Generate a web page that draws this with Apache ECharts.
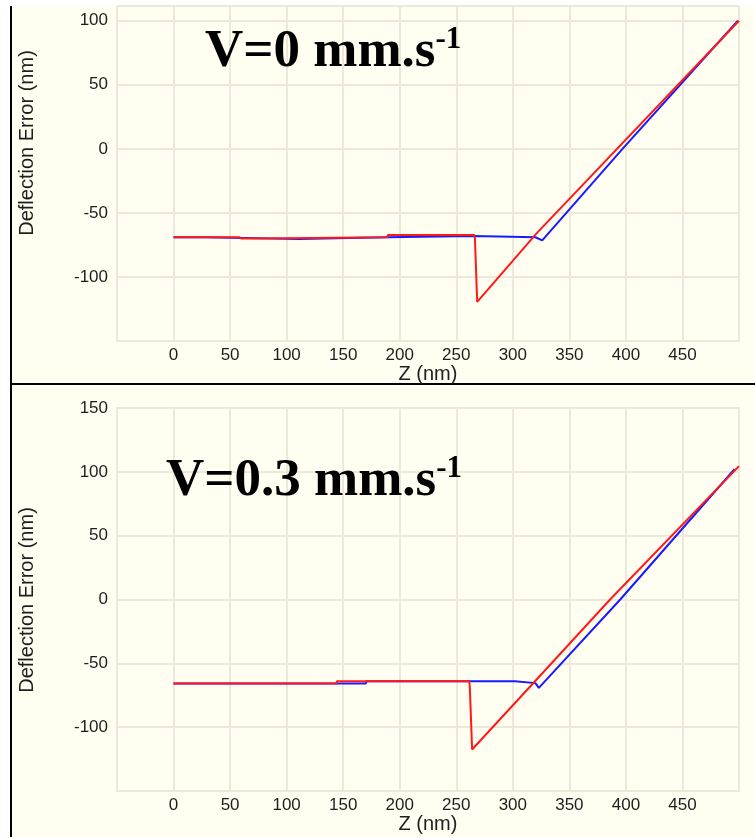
<!DOCTYPE html>
<html>
<head>
<meta charset="utf-8">
<script src="https://cdn.jsdelivr.net/npm/echarts@6/dist/echarts.min.js"></script>
<style>
  html, body { margin: 0; padding: 0; background: #fff; }
  #chart { width: 755px; height: 837px; }
</style>
</head>
<body>
<div id="chart"></div>
<script>
// force curves, [Z (nm), deflection error (nm)]
// V = 0 mm/s
const blueV0 = [
  [0, -69], [27, -69], [27.5, -70.3], [111, -70.3], [111.5, -69], [189, -69],
  [189.5, -68], [265, -68], [265.5, -69], [320, -69], [326, -71.5],
  [397, 0], [499, 100]
];
const redV0 = [
  [0, -69], [58, -69], [60, -70], [76, -70], [76.5, -69], [189, -69],
  [189.5, -67.3], [266, -67.3], [266.5, -70], [268, -70], [268.5, -119.5],
  [321, -66], [500, 100]
];
// V = 0.3 mm/s
const blueV03 = [
  [0, -65.8], [170, -65.8], [170.5, -64], [302, -64], [303, -65.5], [320, -65.5],
  [323, -69.2], [395, 0], [496, 102]
];
const redV03 = [
  [0, -65.8], [144, -65.8], [144.5, -64], [261.5, -64], [262, -69], [263.5, -69],
  [264, -117.5], [317, -66.6], [386, 0], [500, 104.5]
];

const zTicks = { min: -50, max: 500, interval: 50 };
const yRangeTop = { min: -150, max: 111.5 };
const yRangeBottom = { min: -150, max: 150 };

const cream = '#fffef0';
const gridColor = '#ece8da';
const textColor = '#1e1e1e';
const sans = 'Liberation Sans, Arial, sans-serif';
const serif = 'Liberation Serif, Times New Roman, serif';

const xAxisBase = (gridIndex) => ({
  type: 'value',
  gridIndex,
  min: zTicks.min,
  max: zTicks.max,
  interval: zTicks.interval,
  name: 'Z (nm)',
  nameLocation: 'middle',
  nameGap: 22,
  nameTextStyle: { fontFamily: sans, fontSize: 20, color: textColor },
  axisLine: { show: false },
  axisTick: { show: false },
  axisLabel: {
    showMinLabel: false,
    showMaxLabel: false,
    margin: 6,
    fontFamily: sans,
    fontSize: 17,
    color: textColor,
  },
  splitLine: { lineStyle: { color: gridColor, width: 2 } },
});

const yAxisBase = (gridIndex, range, showMax) => ({
  type: 'value',
  gridIndex,
  min: range.min,
  max: range.max,
  interval: 50,
  axisLine: { show: false },
  axisTick: { show: false },
  axisLabel: {
    showMinLabel: false,
    showMaxLabel: showMax,
    margin: 9,
    fontFamily: sans,
    fontSize: 17,
    color: textColor,
  },
  splitLine: { lineStyle: { color: gridColor, width: 2 } },
});

const lineSeries = (data, color, idx) => ({
  type: 'line',
  data,
  xAxisIndex: idx,
  yAxisIndex: idx,
  showSymbol: false,
  symbol: 'none',
  lineStyle: { color, width: 2 },
  silent: true,
});

const titleText = (x, y, main) => ({
  type: 'text',
  x,
  y,
  z: 10,
  style: {
    text: '{m|' + main + '}{s|-1}',
    verticalAlign: 'top',
    rich: {
      m: { fontFamily: serif, fontWeight: 'bold', fontSize: 53, lineHeight: 56, fill: '#000' },
      s: { fontFamily: serif, fontWeight: 'bold', fontSize: 31, lineHeight: 30, fill: '#000', verticalAlign: 'top' },
    },
  },
});

const yName = (x, y) => ({
  type: 'text',
  x,
  y,
  rotation: Math.PI / 2,
  style: {
    text: 'Deflection Error (nm)',
    align: 'center',
    verticalAlign: 'middle',
    fontFamily: sans,
    fontSize: 20,
    fill: textColor,
  },
});

const chart = echarts.init(document.getElementById('chart'), null, { renderer: 'canvas' });
chart.setOption({
  animation: false,
  backgroundColor: cream,
  grid: [
    { left: 117, top: 6, right: 16, height: 335, show: true, borderColor: gridColor, borderWidth: 2, backgroundColor: cream },
    { left: 117, top: 408, right: 16, height: 383, show: true, borderColor: gridColor, borderWidth: 2, backgroundColor: cream },
  ],
  xAxis: [xAxisBase(0), xAxisBase(1)],
  yAxis: [yAxisBase(0, yRangeTop, false), yAxisBase(1, yRangeBottom, true)],
  series: [
    lineSeries(blueV0, '#1a1aff', 0),
    lineSeries(redV0, '#ff1a1a', 0),
    lineSeries(blueV03, '#1a1aff', 1),
    lineSeries(redV03, '#ff1a1a', 1),
  ],
  graphic: [
    { type: 'rect', shape: { x: 0, y: 0, width: 755, height: 6 }, style: { fill: '#fff' } },
    { type: 'rect', shape: { x: 0, y: 0, width: 10, height: 837 }, style: { fill: '#fff' } },
    { type: 'line', shape: { x1: 11, y1: 6, x2: 11, y2: 837 }, style: { stroke: '#000', lineWidth: 2 } },
    { type: 'line', shape: { x1: 10, y1: 384, x2: 755, y2: 384 }, style: { stroke: '#000', lineWidth: 2 } },
    yName(27, 143),
    yName(27, 600),
    titleText(205, 24, 'V=0 mm.s'),
    titleText(166, 453, 'V=0.3 mm.s'),
  ],
});
</script>
</body>
</html>
